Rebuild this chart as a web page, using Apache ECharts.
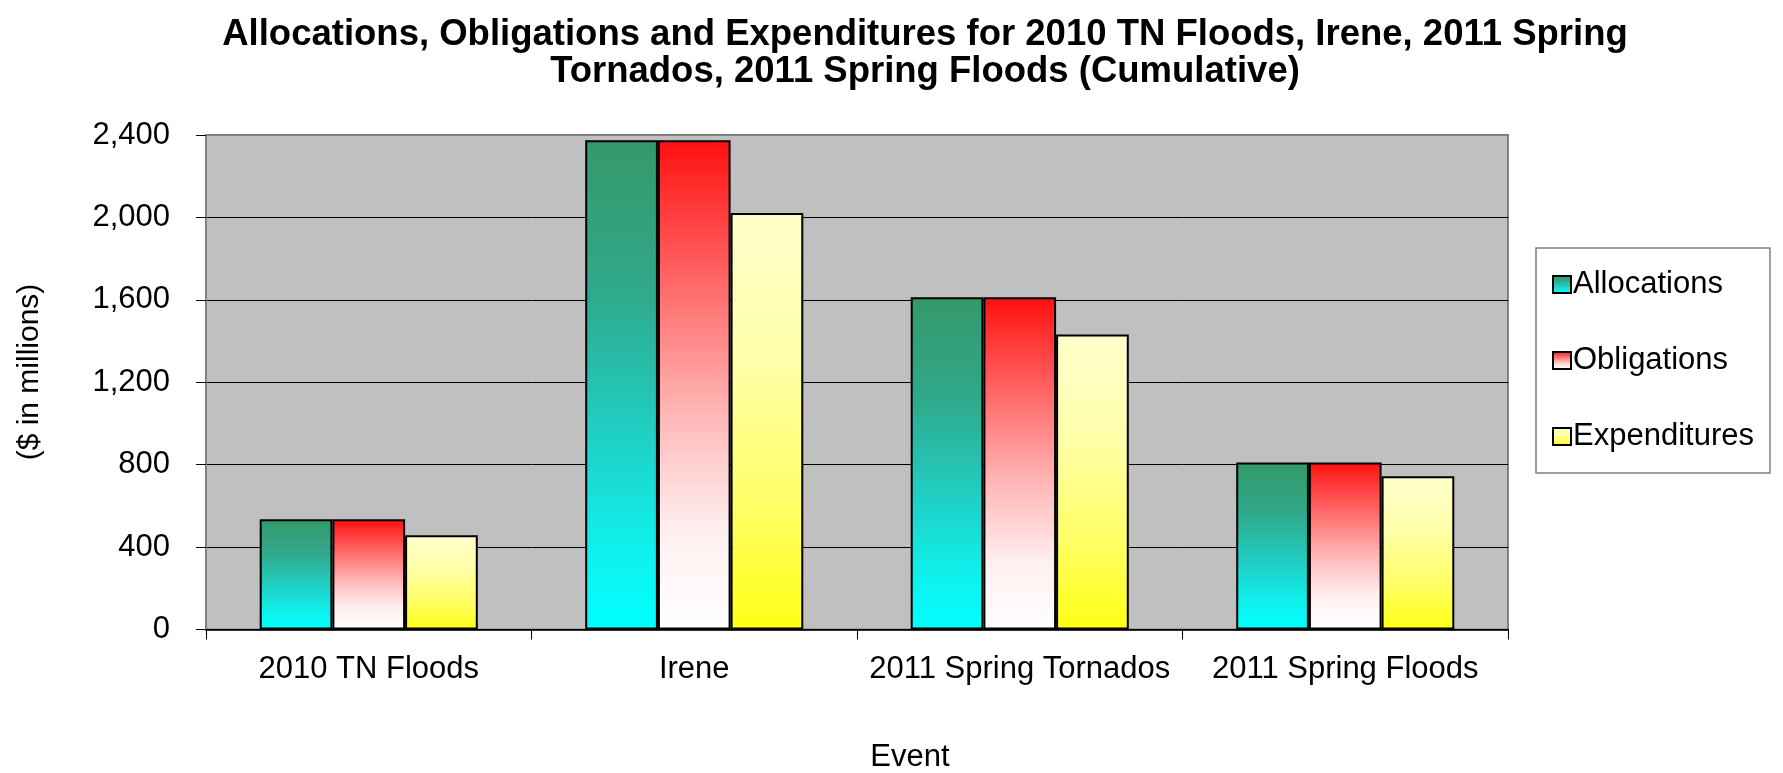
<!DOCTYPE html>
<html>
<head>
<meta charset="utf-8">
<script src="https://cdn.jsdelivr.net/npm/echarts@6/dist/echarts.min.js"></script>
<style>
html,body{margin:0;padding:0;background:#fff;}
#chart{width:1783px;height:773px;}
</style>
</head>
<body>
<div id="chart"></div>
<script>
const titleText = 'Allocations, Obligations and Expenditures for 2010 TN Floods, Irene, 2011 Spring\nTornados, 2011 Spring Floods (Cumulative)';
const categories = ['2010 TN Floods', 'Irene', '2011 Spring Tornados', '2011 Spring Floods'];
const seriesNames = ['Allocations', 'Obligations', 'Expenditures'];
const allocations = [535, 2375, 1612, 811];
const obligations = [535, 2375, 1612, 811];
const expenditures = [458, 2021, 1432, 744];
const yTicks = [0, 400, 800, 1200, 1600, 2000, 2400];
const yAxisTitle = '($ in millions)';
const xAxisTitle = 'Event';

const FONT = '"Liberation Sans", Arial, sans-serif';

function grad(stops) {
  return new echarts.graphic.LinearGradient(0, 0, 0, 1,
    stops.map(s => ({offset: s[0], color: s[1]})));
}
const fills = [
  grad([[0, '#34996a'], [0.3, '#30a88a'], [0.6, '#20cfc4'], [0.85, '#0ef2ef'], [1, '#00ffff']]),
  grad([[0, '#ff1010'], [0.3, '#ff6a6a'], [0.55, '#ffb4b4'], [0.8, '#fff0f0'], [1, '#ffffff']]),
  grad([[0, '#ffffcc'], [0.35, '#ffffaa'], [0.7, '#ffff66'], [1, '#ffff14']])
];
const seriesData = [allocations, obligations, expenditures];

// split line colours: grid lines black, the top one merges with the grey plot border
const splitColors = yTicks.map((t, i) => i === yTicks.length - 1 ? '#808080' : '#000000');

const chart = echarts.init(document.getElementById('chart'), null, {renderer: 'canvas'});
chart.setOption({
  animation: false,
  backgroundColor: '#ffffff',
  textStyle: {fontFamily: FONT},
  title: [{
    text: titleText,
    left: 925,
    top: 16,
    padding: 0,
    textAlign: 'center',
    textStyle: {fontFamily: FONT, fontSize: 36.5, fontWeight: 'bold', color: '#000', lineHeight: 37}
  }, {
    text: xAxisTitle,
    left: 910,
    top: 740,
    padding: 0,
    textAlign: 'center',
    textStyle: {fontFamily: FONT, fontSize: 31, fontWeight: 'normal', color: '#000', lineHeight: 34}
  }],
  graphic: [{
    type: 'text',
    x: 30,
    y: 372,
    rotation: Math.PI / 2,
    style: {
      text: yAxisTitle,
      fontFamily: FONT,
      fontSize: 30,
      fill: '#000',
      align: 'center',
      verticalAlign: 'middle'
    }
  }],
  legend: {
    orient: 'vertical',
    left: 1536,
    top: 248,
    padding: [21, 16, 21, 16],
    itemGap: 45,
    itemWidth: 18,
    itemHeight: 17,
    width: 200,
    borderColor: '#808080',
    borderWidth: 1.5,
    backgroundColor: '#ffffff',
    textStyle: {fontFamily: FONT, fontSize: 31, color: '#000', lineHeight: 31, padding: [0, 0, 0, -3]},
    data: seriesNames.map(n => ({name: n, icon: 'rect'}))
  },
  grid: {
    left: 206,
    right: 275,
    top: 135,
    bottom: 143.5,
    show: true,
    backgroundColor: '#c0c0c0',
    borderColor: '#808080',
    borderWidth: 2,
    containLabel: false
  },
  xAxis: {
    type: 'category',
    data: categories,
    boundaryGap: true,
    axisLine: {show: true, lineStyle: {color: '#000', width: 1.5}},
    axisTick: {show: true, length: 10, inside: false, lineStyle: {color: '#000', width: 1}},
    axisLabel: {fontFamily: FONT, fontSize: 31, color: '#000', margin: 24, interval: 0},
    splitLine: {show: false}
  },
  yAxis: {
    type: 'value',
    min: yTicks[0],
    max: yTicks[yTicks.length - 1],
    interval: yTicks[1] - yTicks[0],
    axisLine: {show: true, lineStyle: {color: '#808080', width: 2}},
    axisTick: {show: true, length: 10, inside: false, lineStyle: {color: '#000', width: 1}},
    axisLabel: {
      fontFamily: FONT, fontSize: 31, color: '#000', margin: 36,
      formatter: v => v.toLocaleString('en-US')
    },
    splitLine: {show: true, lineStyle: {color: splitColors, width: 1}}
  },
  series: seriesNames.map((name, i) => ({
    name: name,
    type: 'bar',
    data: seriesData[i],
    barGap: '0%',
    barCategoryGap: '33%',
    itemStyle: {color: fills[i], borderColor: '#000', borderWidth: 2},
    emphasis: {disabled: true}
  }))
});
</script>
</body>
</html>
